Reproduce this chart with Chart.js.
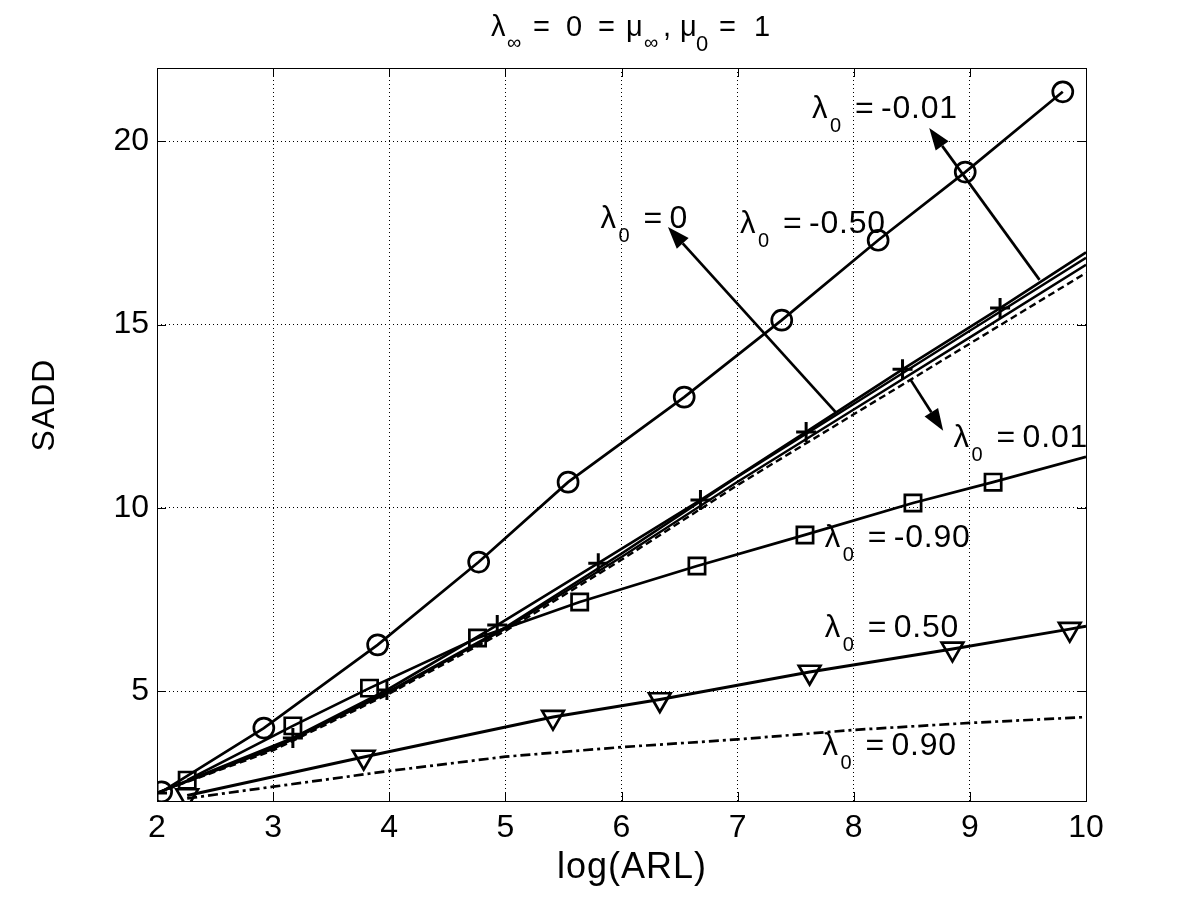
<!DOCTYPE html>
<html><head><meta charset="utf-8">
<script src="https://cdn.jsdelivr.net/npm/chart.js@4.4.0/dist/chart.umd.min.js"></script>
<style>html,body{margin:0;padding:0;background:#fff}canvas{display:block}</style>
</head><body>
<canvas id="c" width="1200" height="900"></canvas>
<script>
// ---------- data ----------
const X_TICKS = [2, 3, 4, 5, 6, 7, 8, 9, 10];
const Y_TICKS = [5, 10, 15, 20];

// lambda0 = -0.50 (circles)
const lamM050X = [2.04, 2.92, 3.90, 4.77, 5.54, 6.54, 7.38, 8.21, 8.96, 9.80];
const lamM050Y = [2.25, 3.99, 6.26, 8.52, 10.70, 13.02, 15.12, 17.30, 19.16, 21.35];

// bundle line with plus markers (last point has no marker)
const lamPlusX = [2.00, 3.17, 3.98, 4.93, 5.80, 6.68, 7.59, 8.42, 9.26, 10.00];
const lamPlusY = [2.22, 3.72, 5.03, 6.80, 8.49, 10.21, 12.07, 13.78, 15.45, 16.97];

// other bundle lines (lambda0 = 0, -0.01, 0.01)
const bundleX = [2.00, 3.00, 4.00, 5.00, 6.00, 7.00, 8.00, 9.00, 10.00];
const bundleBY = [2.22, 3.45, 5.00, 6.74, 8.75, 10.85, 12.83, 14.83, 16.82];
const bundleCY = [2.22, 3.42, 4.97, 6.70, 8.66, 10.71, 12.68, 14.65, 16.63];
const bundleDY = [2.22, 3.38, 4.93, 6.64, 8.58, 10.62, 12.55, 14.48, 16.41];

// lambda0 = -0.90 (squares; last point has no marker)
const lamM090X = [2.26, 3.17, 3.83, 4.76, 5.64, 6.65, 7.58, 8.51, 9.20, 10.00];
const lamM090Y = [2.57, 4.05, 5.08, 6.45, 7.43, 8.41, 9.26, 10.13, 10.70, 11.39];

// lambda0 = 0.50 (triangles; last point has no marker)
const lamP050X = [2.26, 3.78, 5.41, 6.33, 7.62, 8.85, 9.86, 10.00];
const lamP050Y = [2.15, 3.20, 4.29, 4.77, 5.52, 6.15, 6.69, 6.77];

// lambda0 = 0.90 (dash-dot)
const lamP090X = [2.26, 3.00, 4.00, 5.00, 6.00, 7.00, 8.00, 9.00, 10.00];
const lamP090Y = [2.07, 2.39, 2.82, 3.21, 3.47, 3.68, 3.94, 4.13, 4.29];

// annotation labels: value text, anchor (x, y baseline-left)
const labelText = ['-0.01', '0', '-0.50', '0.01', '-0.90', '0.50', '0.90'];
const labelX = [7.64, 5.82, 7.02, 8.86, 7.75, 7.75, 7.73];
const labelY = [20.64, 17.63, 17.50, 11.66, 8.93, 6.47, 3.26];

// arrows: tail -> tip
const arrowFromX = [9.60, 7.85, 8.49];
const arrowFromY = [16.22, 12.59, 13.49];
const arrowToX = [8.65, 6.40, 8.77];
const arrowToY = [20.36, 17.66, 12.10];

// ---------- chart ----------
const FONT = '"Liberation Sans", Arial, Helvetica, sans-serif';
const pts = (xs, ys) => xs.map((x, i) => ({x: x, y: ys[i]}));
const markR = (r, lastMarked) => (c) =>
  (!lastMarked && c.dataIndex === c.dataset.data.length - 1) ? 0 : r;

const base = {showLine: true, tension: 0, borderColor: '#000', backgroundColor: 'rgba(0,0,0,0)',
  pointBorderColor: '#000', pointBackgroundColor: 'rgba(0,0,0,0)', pointHoverRadius: 0};

const datasets = [
  Object.assign({}, base, {data: pts(lamP090X, lamP090Y), borderWidth: 2.7, borderDash: [10, 4, 3, 4], pointRadius: 0}),
  Object.assign({}, base, {data: pts(lamP050X, lamP050Y), borderWidth: 3, pointStyle: 'triangle', rotation: 180,
    pointRadius: markR(12.5, false), pointBorderWidth: 2.7}),
  Object.assign({}, base, {data: pts(bundleX, bundleDY), borderWidth: 2.4, borderDash: [7, 4], pointRadius: 0}),
  Object.assign({}, base, {data: pts(bundleX, bundleCY), borderWidth: 2.4, pointRadius: 0}),
  Object.assign({}, base, {data: pts(bundleX, bundleBY), borderWidth: 2.4, pointRadius: 0}),
  Object.assign({}, base, {data: pts(lamPlusX, lamPlusY), borderWidth: 2.7, pointStyle: 'cross',
    pointRadius: markR(10, false), pointBorderWidth: 3}),
  Object.assign({}, base, {data: pts(lamM090X, lamM090Y), borderWidth: 2.7, pointStyle: 'rect',
    pointRadius: markR(11.5, false), pointBorderWidth: 2.7}),
  Object.assign({}, base, {data: pts(lamM050X, lamM050Y), borderWidth: 2.7, pointStyle: 'circle',
    pointRadius: markR(10, true), pointBorderWidth: 2.7})
];

function txt(ctx, t, x, y, size, spacing) {
  ctx.font = size + 'px ' + FONT;
  try { ctx.letterSpacing = (spacing || 0) + 'px'; } catch (e) {}
  ctx.fillText(t, x, y);
  try { ctx.letterSpacing = '0px'; } catch (e) {}
}

const decor = {
  id: 'decor',
  afterDatasetsDraw(chart) {
    const ctx = chart.ctx, a = chart.chartArea, xs = chart.scales.x, ys = chart.scales.y;
    ctx.save();
    ctx.strokeStyle = '#000'; ctx.fillStyle = '#000'; ctx.lineWidth = 1; ctx.setLineDash([]);
    // box
    ctx.strokeRect(Math.round(a.left) + 0.5, Math.round(a.top) + 0.5,
      Math.round(a.right - a.left), Math.round(a.bottom - a.top));
    // inward ticks
    ctx.beginPath();
    for (const v of X_TICKS) {
      const px = Math.round(xs.getPixelForValue(v)) + 0.5;
      ctx.moveTo(px, a.bottom); ctx.lineTo(px, a.bottom - 9);
      ctx.moveTo(px, a.top); ctx.lineTo(px, a.top + 9);
    }
    for (const v of Y_TICKS) {
      const py = Math.round(ys.getPixelForValue(v)) + 0.5;
      ctx.moveTo(a.left, py); ctx.lineTo(a.left + 9, py);
      ctx.moveTo(a.right, py); ctx.lineTo(a.right - 9, py);
    }
    ctx.stroke();

    // arrows
    ctx.lineWidth = 2.7;
    for (let i = 0; i < arrowFromX.length; i++) {
      const x0 = xs.getPixelForValue(arrowFromX[i]), y0 = ys.getPixelForValue(arrowFromY[i]);
      const x1 = xs.getPixelForValue(arrowToX[i]), y1 = ys.getPixelForValue(arrowToY[i]);
      const ang = Math.atan2(y1 - y0, x1 - x0), L = 22, W = 8;
      const bx = x1 - L * Math.cos(ang), by = y1 - L * Math.sin(ang);
      ctx.beginPath(); ctx.moveTo(x0, y0); ctx.lineTo(bx, by); ctx.stroke();
      ctx.beginPath();
      ctx.moveTo(x1, y1);
      ctx.lineTo(bx + W * Math.sin(ang), by - W * Math.cos(ang));
      ctx.lineTo(bx - W * Math.sin(ang), by + W * Math.cos(ang));
      ctx.closePath(); ctx.fill();
    }

    // labels  (TeX-like layout: lambda, subscript 0, '=', value)
    ctx.textBaseline = 'alphabetic'; ctx.textAlign = 'left';
    for (let i = 0; i < labelText.length; i++) {
      const px = xs.getPixelForValue(labelX[i]), py = ys.getPixelForValue(labelY[i]);
      txt(ctx, 'λ', px, py, 31, 0);
      txt(ctx, '0', px + 18, py + 14, 20, 0);
      txt(ctx, '=', px + 43, py, 32, 0);
      txt(ctx, labelText[i], px + 69, py, 32, 0.8);
    }

    // title  λ∞ = 0 = μ∞, μ0 = 1
    const tl = 491, tb = 36;
    txt(ctx, 'λ', tl, tb, 29);
    txt(ctx, '∞', tl + 16, tb + 13, 20);
    txt(ctx, '=', tl + 42, tb, 29);
    txt(ctx, '0', tl + 75, tb, 29);
    txt(ctx, '=', tl + 107, tb, 29);
    txt(ctx, 'μ', tl + 135, tb, 29);
    txt(ctx, '∞', tl + 153, tb + 13, 20);
    txt(ctx, ',', tl + 172, tb, 29);
    txt(ctx, 'μ', tl + 189, tb, 29);
    txt(ctx, '0', tl + 205, tb + 15, 22);
    txt(ctx, '=', tl + 228, tb, 29);
    txt(ctx, '1', tl + 263, tb, 29);

    // axis titles
    ctx.textAlign = 'center'; ctx.textBaseline = 'middle';
    txt(ctx, 'log(ARL)', 632, 868, 36, 1);
    ctx.save();
    ctx.translate(45, 405); ctx.rotate(-Math.PI / 2);
    txt(ctx, 'SADD', 0, 0, 32, 1);
    ctx.restore();
    ctx.restore();
  }
};

new Chart(document.getElementById('c'), {
  type: 'scatter',
  data: {datasets: datasets},
  options: {
    responsive: false, animation: false, events: [],
    layout: {padding: {left: 0, right: 114, top: 68, bottom: 0}},
    plugins: {legend: {display: false}, tooltip: {enabled: false}, title: {display: false}},
    scales: {
      x: {
        type: 'linear', min: 2, max: 10,
        afterFit: s => { s.height = 99; },
        afterBuildTicks: s => { s.ticks = X_TICKS.map(v => ({value: v})); },
        grid: {color: '#000', lineWidth: 1, drawTicks: false},
        border: {display: false, dash: [1, 3]},
        ticks: {color: '#000', font: {family: FONT, size: 32}, padding: 8, maxRotation: 0, autoSkip: false}
      },
      y: {
        type: 'linear', min: 2, max: 22,
        afterFit: s => { s.width = 157; },
        afterBuildTicks: s => { s.ticks = Y_TICKS.map(v => ({value: v})); },
        grid: {color: '#000', lineWidth: 1, drawTicks: false},
        border: {display: false, dash: [1, 3]},
        ticks: {color: '#000', font: {family: FONT, size: 32}, padding: 8, autoSkip: false}
      }
    }
  },
  plugins: [decor]
});
</script>
</body></html>
